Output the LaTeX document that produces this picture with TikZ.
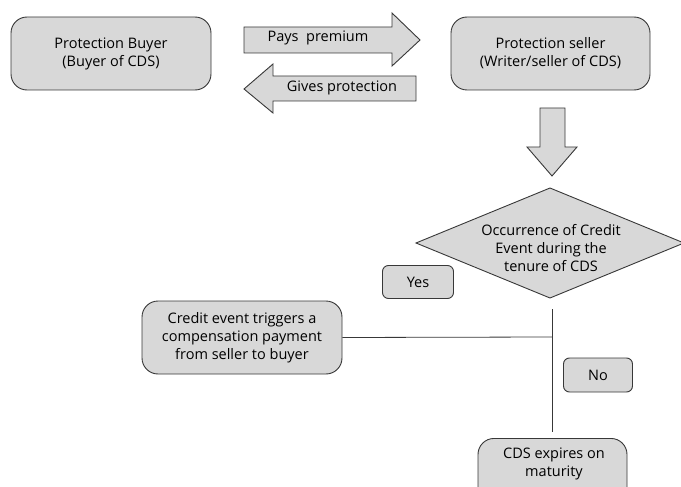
\documentclass[tikz,border=0pt]{standalone}
\usepackage{fontspec}
\setmainfont{Open Sans}
\usetikzlibrary{shapes.geometric}
\definecolor{boxfill}{HTML}{D8D8D8}
\definecolor{boxline}{HTML}{383838}
\tikzset{
  lbl/.style={font=\fontsize{14.5}{18}\selectfont, align=center, inner sep=0pt},
  rbox/.style={lbl, draw=boxline, fill=boxfill, line width=0.9pt, rounded corners=16pt},
  smallbox/.style={lbl, draw=boxline, fill=boxfill, line width=0.9pt, rounded corners=6pt},
  bigarrow/.style={draw=boxline, fill=boxfill, line width=0.9pt, line join=miter},
  conn/.style={draw=boxline, line width=0.8pt}
}
\begin{document}
\begin{tikzpicture}[x=1pt,y=-1pt]
\useasboundingbox (0,0) rectangle (681,487);
\clip (0,0) rectangle (681,487);
% boxes
\node[rbox, minimum width=200pt, minimum height=73pt] (buyer) at (111,53.5) {Protection Buyer\\(Buyer of CDS)};
\node[rbox, minimum width=199pt, minimum height=73pt] (seller) at (550.5,53.5) {Protection seller\\(Writer/seller of CDS)};
% pays premium arrow
\draw[bigarrow] (244,27) -- (392,27) -- (392,13) -- (420,40) -- (392,66) -- (392,53) -- (244,53) -- cycle;
\node[lbl] (pays) at (318,38) {Pays~ premium};
% gives protection arrow
\draw[bigarrow] (416,76) -- (273,76) -- (273,64) -- (244,89) -- (273,113) -- (273,101) -- (416,101) -- cycle;
\node[lbl] (gives) at (342,88) {Gives protection};
% down arrow
\draw[bigarrow] (540,108) -- (565,108) -- (565,147) -- (577,147) -- (552,176) -- (527,147) -- (540,147) -- cycle;
% decision diamond
\draw[bigarrow] (550,188) -- (684,243) -- (550,298) -- (416,243) -- cycle;
\node[lbl] (decision) at (551,248) {Occurrence of Credit\\Event during the\\tenure of CDS};
% yes / no
\node[smallbox, minimum width=71pt, minimum height=33pt] (yes) at (418,282) {Yes};
\node[smallbox, minimum width=69pt, minimum height=34pt] (no) at (598,375) {No};
% outcomes
\node[rbox, minimum width=200pt, minimum height=73pt] (credit) at (242,337.5) {Credit event triggers a\\compensation payment\\from seller to buyer};
\node[rbox, minimum width=149pt, minimum height=70pt, anchor=north] (expires) at (552.5,438) {};
\node[lbl] (expirestext) at (554,464) {CDS expires on\\maturity};
% connectors
\coordinate (vtop) at (552,309);
\coordinate (vbot) at (552,432);
\coordinate (junc) at (552,337);
\draw[conn] (vtop) -- (vbot);
\draw[conn] (credit.east) -- (junc);
\end{tikzpicture}
\end{document}
